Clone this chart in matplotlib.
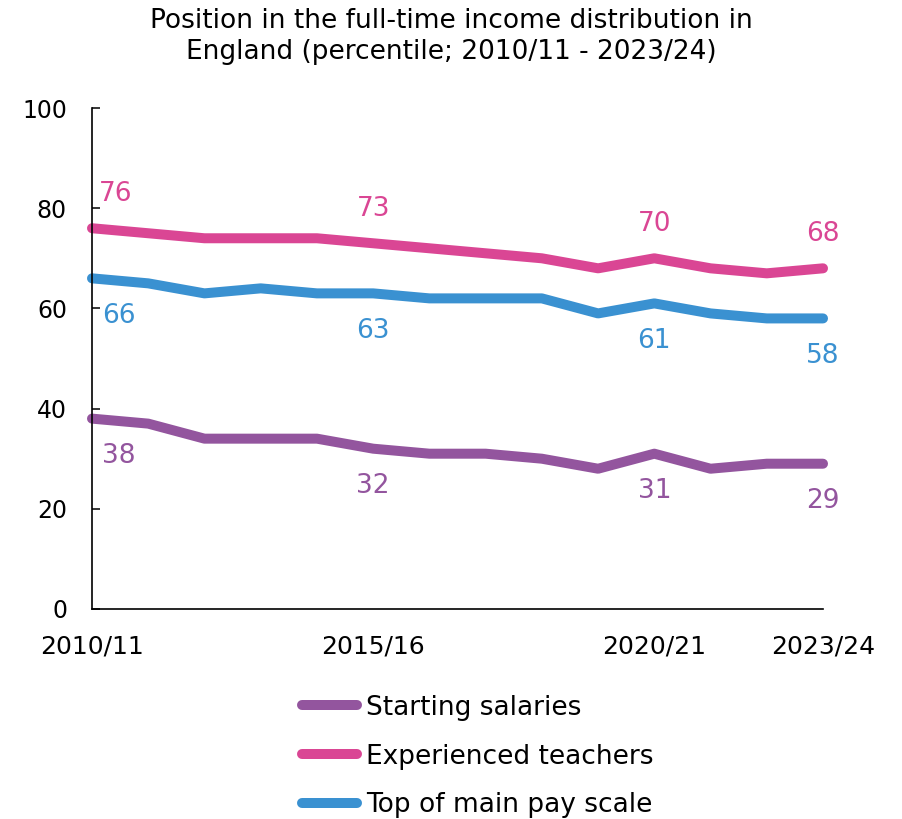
import matplotlib
matplotlib.use("Agg")
import matplotlib.pyplot as plt

plt.rcParams['font.family'] = ['DejaVu Sans']

# 数据（从图中读取的百分位）
years = ['2010/11', '2011/12', '2012/13', '2013/14', '2014/15', '2015/16', '2016/17',
         '2017/18', '2018/19', '2019/20', '2020/21', '2021/22', '2022/23', '2023/24']
starting = [38, 37, 34, 34, 34, 32, 31, 31, 30, 28, 31, 28, 29, 29]
experienced = [76, 75, 74, 74, 74, 73, 72, 71, 70, 68, 70, 68, 67, 68]
top_main = [66, 65, 63, 64, 63, 63, 62, 62, 62, 59, 61, 59, 58, 58]
label_idx = [0, 5, 10, 13]
xtick_idx = [0, 5, 10, 13]
yticks = [0, 20, 40, 60, 80, 100]

c_start = '#93559e'
c_exp = '#da4694'
c_top = '#3a91d1'

fig = plt.figure(figsize=(9.02, 8.19), dpi=100)
ax = fig.add_axes([92 / 902, 1 - 609 / 819, (823 - 92) / 902, (609 - 108) / 819])

x = list(range(len(years)))
series = [
    ('Starting salaries', starting, c_start, 'below'),
    ('Experienced teachers', experienced, c_exp, 'above'),
    ('Top of main pay scale', top_main, c_top, 'below'),
]
for name, vals, col, pos in series:
    ax.plot(x, vals, color=col, lw=7.2, solid_capstyle='round',
            solid_joinstyle='round', label=name, clip_on=False)
    for i in label_idx:
        dx = 0
        if i == 0:
            dx = 17 if pos == 'above' else 19
        dy = 25 if pos == 'above' else -27
        ax.annotate(str(vals[i]), (x[i], vals[i]), xytext=(dx, dy),
                    textcoords='offset points', ha='center', va='center',
                    color=col, fontsize=19, annotation_clip=False)

ax.set_xlim(0, len(years) - 1)
ax.set_ylim(0, 100)
ax.set_yticks(yticks)
ax.set_xticks(xtick_idx)
ax.set_xticklabels([years[i] for i in xtick_idx])
ax.tick_params(axis='y', direction='in', length=6, width=1.1, pad=18, labelsize=17)
ax.tick_params(axis='x', length=0, pad=18, labelsize=18)
for s in ['top', 'right']:
    ax.spines[s].set_visible(False)
for s in ['left', 'bottom']:
    ax.spines[s].set_linewidth(1.2)
    ax.spines[s].set_color('black')

fig.text(0.5, 0.955, 'Position in the full-time income distribution in\nEngland (percentile; 2010/11 - 2023/24)',
         ha='center', va='center', fontsize=19, linespacing=1.25)

leg = fig.legend(loc='upper left', bbox_to_anchor=(291 / 902, 1 - 684 / 819),
                 frameon=False, fontsize=19, handlelength=2.1, handletextpad=0.35,
                 labelspacing=0.87, borderaxespad=0)

fig.savefig('out.png', dpi=100)
